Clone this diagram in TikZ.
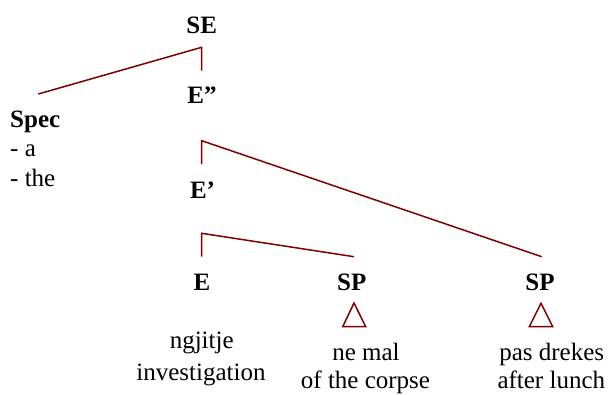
\documentclass[tikz,border=0pt]{standalone}
\usepackage{fontspec}
\setmainfont{Liberation Serif}
\definecolor{branch}{RGB}{128,0,0}
\begin{document}
\begin{tikzpicture}[x=1pt,y=-1pt,
  lab/.style={inner sep=0pt,anchor=base,font=\fontsize{25}{29}\selectfont\bfseries},
  txt/.style={inner sep=0pt,anchor=base,font=\fontsize{25}{29}\selectfont},
  txtl/.style={inner sep=0pt,anchor=base west,font=\fontsize{25}{29}\selectfont},
  branchline/.style={draw=branch,line width=1.5pt},
  tri/.style={draw=branch,line width=1.5pt,line join=miter}]
\useasboundingbox (0,0) rectangle (610,394);
% labels
\node[lab] (SE) at (201.7,33.3) {SE};
\node[lab] (Epp) at (202,103.3) {E”};
\node[lab] (Ep) at (202.5,198.3) {E’};
\node[lab] (E) at (202,290.3) {E};
\node[lab] (SP1) at (351.7,290.7) {SP};
\node[lab] (SP2) at (540,290.7) {SP};
\node[lab,anchor=base west] (Spec) at (10,127) {Spec};
\node[txtl] (Sa) at (10,156) {- a};
\node[txtl] (Sthe) at (10,186) {- the};
\node[txt] (w1) at (201.7,348) {ngjitje};
\node[txt] (w2) at (201,380) {investigation};
\node[txt] (w3) at (366,360) {ne mal};
\node[txt] (w4) at (365.5,388) {of the corpse};
\node[txt] (w5) at (551.7,360) {pas drekes};
\node[txt] (w6) at (551.3,388) {after lunch};
% branch points
\coordinate (SEtop) at (201.7,47.3);
\coordinate (SEbot) at (201.7,70.7);
\coordinate (SpecEnd) at (38.3,94);
\coordinate (EPPtop) at (201.7,140.7);
\coordinate (EPPbot) at (201.7,164);
\coordinate (SP2end) at (541.7,256.7);
\coordinate (EPtop) at (201.7,233.3);
\coordinate (EPbot) at (201.7,256.7);
\coordinate (SP1end) at (354,256.7);
\draw[branchline] (SpecEnd) -- (SEtop) -- (SEbot);
\draw[branchline] (EPPbot) -- (EPPtop) -- (SP2end);
\draw[branchline] (EPbot) -- (EPtop) -- (SP1end);
% triangles
\coordinate (t1a) at (354,303);
\coordinate (t1b) at (342.7,326.7);
\coordinate (t1c) at (365.7,326.7);
\coordinate (t2a) at (541,303.3);
\coordinate (t2b) at (529.3,326.7);
\coordinate (t2c) at (552.7,326.7);
\draw[tri] (t1a) -- (t1b) -- (t1c) -- cycle;
\draw[tri] (t2a) -- (t2b) -- (t2c) -- cycle;
\end{tikzpicture}
\end{document}
